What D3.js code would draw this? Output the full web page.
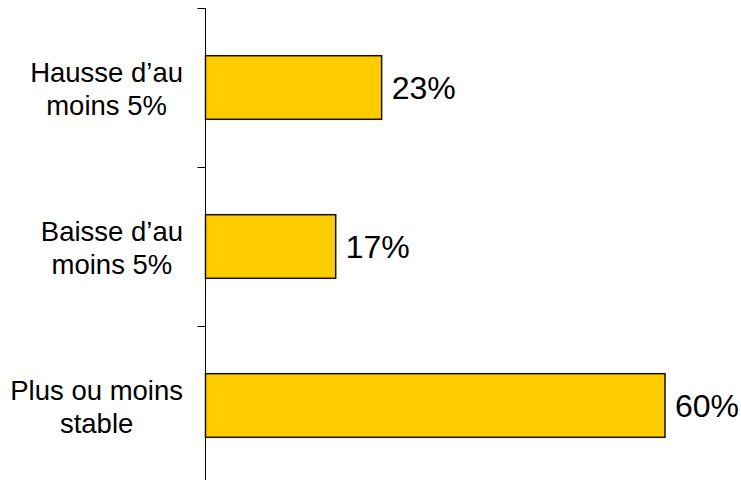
<!DOCTYPE html>
<html>
<head>
<meta charset="utf-8">
<script src="https://cdn.jsdelivr.net/npm/d3@7/dist/d3.min.js"></script>
<style>
  html, body { margin: 0; padding: 0; background: #fff; }
  svg { display: block; font-family: Arial, "Liberation Sans", sans-serif; }
</style>
</head>
<body>
<div id="chart"></div>
<script>
// categories (top to bottom) and values in %
const categories = ['Hausse', 'Baisse', 'Stable']
const labelLines = [
    ['Hausse d\u2019au', 'moins 5%'],
    ['Baisse d\u2019au', 'moins 5%'],
    ['Plus ou moins', 'stable']
]
const values = [23, 17, 60]
const valueLabels = ['23%', '17%', '60%']

const width = 741
const height = 480
const svg = d3.select('#chart').append('svg')
    .attr('width', width)
    .attr('height', height)

// x: percentages
const x = d3.scaleLinear()
    .domain([0, 60])
    .range([205.5, 665])

// y: one slot per category
const y = d3.scaleBand()
    .domain(categories)
    .range([8, 485])
    .padding(0)

const barH = y.bandwidth() * 0.4

// axis line + ticks at slot boundaries
svg.append('line')
    .attr('x1', x(0)).attr('x2', x(0))
    .attr('y1', y.range()[0]).attr('y2', height)
    .attr('stroke', '#000').attr('stroke-width', 1)

svg.selectAll('.tick')
    .data(categories)
    .join('line')
    .attr('class', 'tick')
    .attr('x1', x(0) - 8).attr('x2', x(0))
    .attr('y1', d => Math.round(y(d)) + 0.5)
    .attr('y2', d => Math.round(y(d)) + 0.5)
    .attr('stroke', '#000').attr('stroke-width', 1)

// bars
svg.selectAll('.bar')
    .data(values)
    .join('rect')
    .attr('class', 'bar')
    .attr('x', x(0))
    .attr('y', (d, i) => y(categories[i]) + (y.bandwidth() - barH) / 2)
    .attr('width', d => x(d) - x(0))
    .attr('height', barH)
    .attr('fill', '#FFCC00')
    .attr('stroke', '#111')
    .attr('stroke-width', 1.5)

// value labels
svg.selectAll('.val')
    .data(values)
    .join('text')
    .attr('class', 'val')
    .attr('x', d => x(d) + 10)
    .attr('y', (d, i) => y(categories[i]) + y.bandwidth() / 2 + 11.5)
    .attr('font-size', 32)
    .attr('fill', '#000')
    .text((d, i) => valueLabels[i])

// category labels: block right edge at 183, lines centred within the block
const labelRight = 183
const lineGap = 33
labelLines.forEach((lines, i) => {
    const cy = y(categories[i]) + y.bandwidth() / 2
    const g = svg.append('text')
        .attr('font-size', 27.5)
        .attr('fill', '#000')
        .attr('text-anchor', 'middle')
    const tsp = g.selectAll('tspan')
        .data(lines)
        .join('tspan')
        .attr('y', (d, k) => cy + 11 + (k - (lines.length - 1) / 2) * lineGap)
        .text(d => d)
    let maxW = 0
    tsp.each(function () { maxW = Math.max(maxW, this.getComputedTextLength()) })
    tsp.attr('x', labelRight - maxW / 2)
})
</script>
</body>
</html>
